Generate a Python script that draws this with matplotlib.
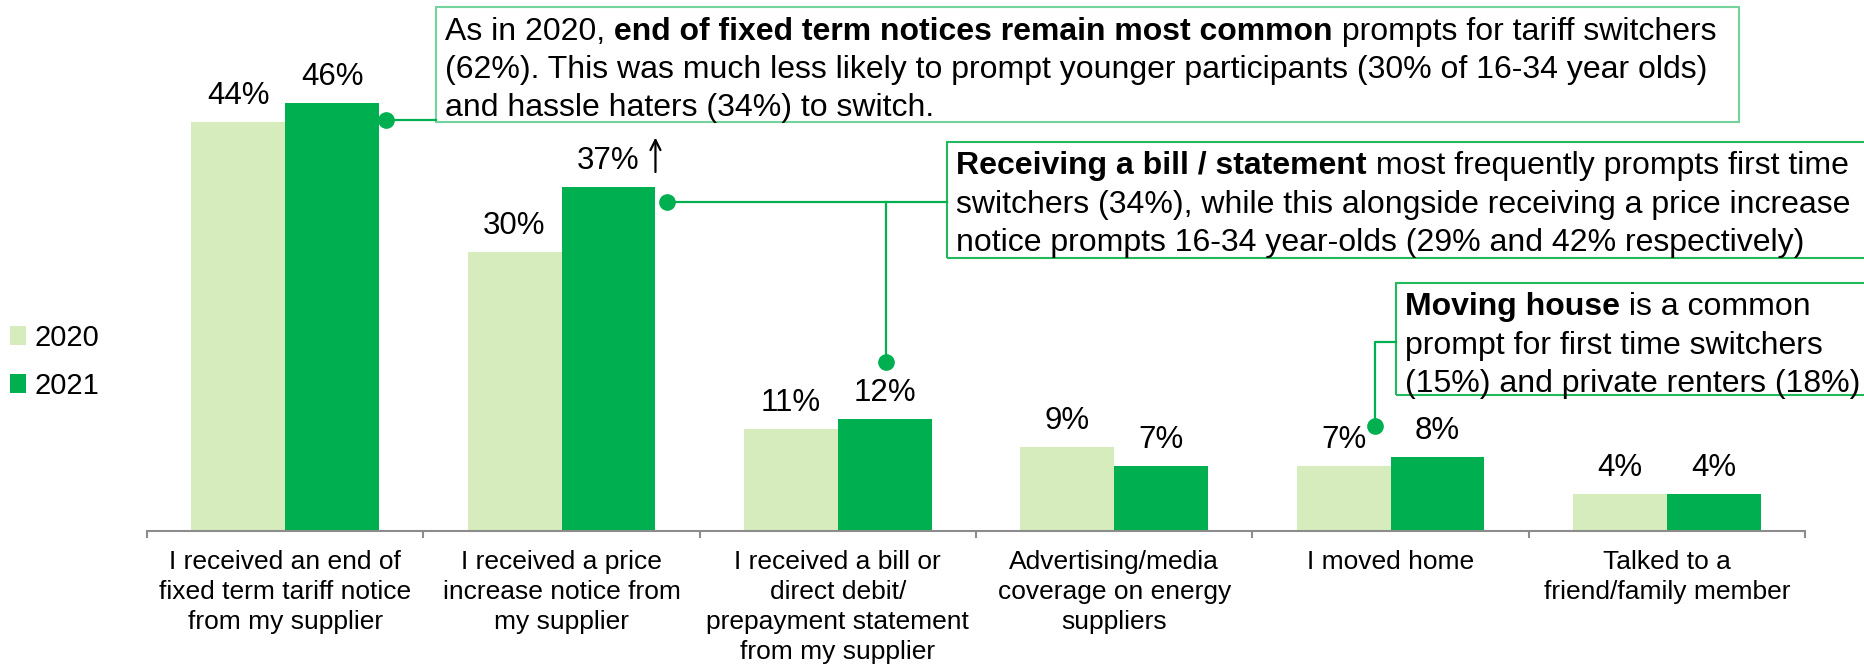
import numpy as np
import matplotlib.pyplot as plt
from matplotlib.patches import Rectangle

plt.rcParams['font.family'] = ['Liberation Sans', 'DejaVu Sans']

# prompts to switch, share of switchers (%)
categories = [
    "I received an end of\nfixed term tariff notice\nfrom my supplier",
    "I received a price\nincrease notice from\nmy supplier",
    "I received a bill or\ndirect debit/\nprepayment statement\nfrom my supplier",
    "Advertising/media\ncoverage on energy\nsuppliers",
    "I moved home",
    "Talked to a\nfriend/family member",
]
vals_2020 = [44, 30, 11, 9, 7, 4]
vals_2021 = [46, 37, 12, 7, 8, 4]
years = ["2020", "2021"]
sig_up = [1]  # significant rise vs 2020

C20 = "#d6ecbd"
C21 = "#00b050"
LINE = "#00b050"
GREY = "#8c8c8c"
FS_NOTE = 23

fig = plt.figure(figsize=(18.64, 6.67), dpi=100)
ax = fig.add_axes([147 / 1864, 136 / 667, 1658 / 1864, 465 / 667])
ax.set_xlim(-0.5, 5.5)
ax.set_ylim(0, 50)

x = np.arange(len(categories))
w = 0.34
bars20 = ax.bar(x - w / 2, vals_2020, w, color=C20, label=years[0])
bars21 = ax.bar(x + w / 2, vals_2021, w, color=C21, label=years[1])

for bars, vals in [(bars20, vals_2020), (bars21, vals_2021)]:
    for r, v in zip(bars, vals):
        ax.annotate(f"{v}%", xy=(r.get_x() + r.get_width() / 2, v),
                    xytext=(0, 13), textcoords="offset points",
                    ha="center", va="baseline", fontsize=22.5)

for i in sig_up:
    r = bars21[i]
    xa = r.get_x() + r.get_width()
    ax.annotate("", xy=(xa, vals_2021[i] + 5.6), xytext=(xa, vals_2021[i] + 1.3),
                arrowprops=dict(arrowstyle="->", lw=1.6, color="black",
                                mutation_scale=18),
                annotation_clip=False)

# axis
for s in ["top", "left", "right"]:
    ax.spines[s].set_visible(False)
ax.spines["bottom"].set_color(GREY)
ax.spines["bottom"].set_linewidth(1.5)
ax.set_yticks([])
ax.set_xticks(x)
ax.set_xticklabels(categories, fontsize=19, linespacing=1.3)
ax.tick_params(axis="x", which="major", length=0, pad=14)
ax.set_xticks(np.arange(-0.5, 6.0, 1.0), minor=True)
ax.tick_params(axis="x", which="minor", length=5, width=1.5, color=GREY)

leg = ax.legend(loc="center left", bbox_to_anchor=(10 / 1864, 305 / 667),
                bbox_transform=fig.transFigure, frameon=False, fontsize=21,
                handlelength=0.55, handleheight=0.62, handletextpad=0.28,
                labelspacing=0.7, borderpad=0, borderaxespad=0)


def text_line(x0, y0, dy, segs):
    # one line of mixed normal/bold runs, placed left to right
    prev = None
    for s, bold in segs:
        fw = "bold" if bold else "normal"
        if prev is None:
            prev = ax.annotate(s, xy=(x0, y0), xycoords="data",
                               xytext=(6.5, dy), textcoords="offset points",
                               ha="left", va="baseline", fontsize=FS_NOTE,
                               fontweight=fw, annotation_clip=False)
        else:
            prev = ax.annotate(s, xy=(1, 0), xycoords=prev,
                               ha="left", va="bottom", fontsize=FS_NOTE,
                               fontweight=fw, annotation_clip=False)


def note(x0, x1, top, bot, lines, edge):
    ax.add_patch(Rectangle((x0, bot), x1 - x0, top - bot, fill=False,
                           edgecolor=edge, lw=1.5, clip_on=False))
    for k, segs in enumerate(lines):
        text_line(x0, top, -23.4 - 27.4 * k, segs)


note(0.546, 5.262, 56.3, 44.0, [
    [("As in 2020,", False), (" end of fixed term notices remain most common", True),
     (" prompts for tariff switchers", False)],
    [("(62%). This was much less likely to prompt younger participants (30% of 16-34 year olds)", False)],
    [("and hassle haters (34%) to switch.", False)],
], "#74d39c")

note(2.395, 6.5, 41.83, 29.35, [
    [("Receiving a bill / statement", True), (" most frequently prompts first time", False)],
    [("switchers (34%), while this alongside receiving a price increase", False)],
    [("notice prompts 16-34 year-olds (29% and 42% respectively)", False)],
], "#22b85c")

note(4.020, 6.5, 26.67, 14.62, [
    [("Moving house", True), (" is a common", False)],
    [("prompt for first time switchers", False)],
    [("(15%) and private renters (18%)", False)],
], "#22b85c")

# connectors
kw = dict(color=LINE, lw=1.6, clip_on=False)
dot = dict(marker="o", markersize=11, color=LINE, clip_on=False, lw=0)
ax.plot([0.365, 0.546], [44.2, 44.2], **kw)
ax.plot([0.365], [44.2], **dot)
ax.plot([1.382, 2.395], [35.4, 35.4], **kw)
ax.plot([2.175, 2.175], [35.4, 18.2], **kw)
ax.plot([1.382, 2.175], [35.4, 18.2], **dot)
ax.plot([3.944, 3.944, 4.020], [11.3, 20.3, 20.3], **kw)
ax.plot([3.944], [11.3], **dot)

fig.savefig("out.png", dpi=100)
